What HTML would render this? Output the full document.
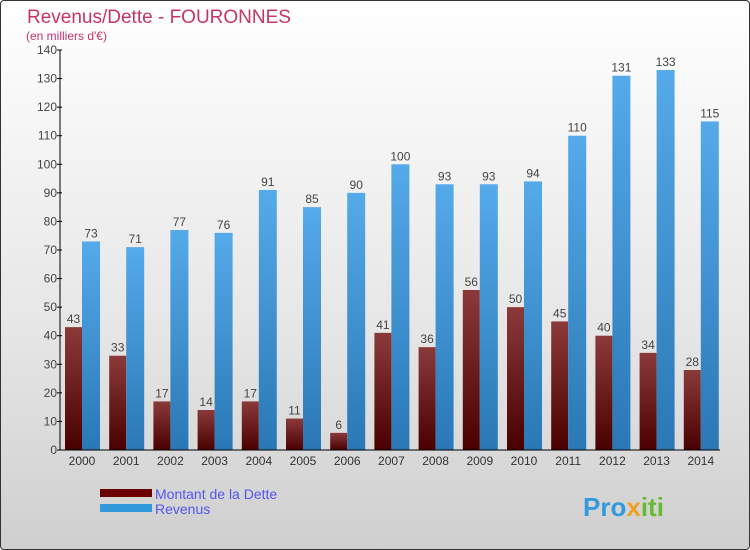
<!DOCTYPE html>
<html><head><meta charset="utf-8"><style>
html,body{margin:0;padding:0}
body{width:750px;height:550px;overflow:hidden;font-family:"Liberation Sans",sans-serif}
#wrap{position:absolute;left:0;top:0;width:748px;height:548px;border:1px solid #333;border-radius:4px;background:linear-gradient(#ffffff,#e6e6e6 60%,#cfcfcf)}
</style></head><body>
<div id="wrap">
<svg id="chart" width="750" height="550" style="position:absolute;left:-1px;top:-1px">
<defs>
<linearGradient id="gD" x1="0" y1="0" x2="0" y2="1"><stop offset="0" stop-color="#8b3a3a"/><stop offset="1" stop-color="#4a0000"/></linearGradient>
<linearGradient id="gR" x1="0" y1="0" x2="0" y2="1"><stop offset="0" stop-color="#55aaea"/><stop offset="1" stop-color="#2a78b5"/></linearGradient>
</defs>
<text x="27" y="23" font-size="19" fill="#c8336a">Revenus/Dette - FOURONNES</text>
<text x="26" y="40" font-size="12" fill="#c8336a">(en milliers d'€)</text>
<g id="bars"></g>
<g id="axes"></g>
<rect x="100" y="489" width="52" height="8" fill="#6b0000"/>
<rect x="100" y="504" width="52" height="8" fill="#3399dd"/>
<text x="155" y="499" font-size="14" fill="#5555ee">Montant de la Dette</text>
<text x="155" y="514" font-size="14" fill="#5555ee">Revenus</text>
<text x="583" y="516" font-size="26" font-weight="bold" fill="#3399dd">Pro<tspan fill="#f0a020">x</tspan><tspan fill="#66bb33">iti</tspan></text>
</svg>
</div>
<script>
const years=["2000","2001","2002","2003","2004","2005","2006","2007","2008","2009","2010","2011","2012","2013","2014"];
const dette=[43,33,17,14,17,11,6,41,36,56,50,45,40,34,28];
const revenus=[73,71,77,76,91,85,90,100,93,93,94,110,131,133,115];
const yTicks=[0,10,20,30,40,50,60,70,80,90,100,110,120,130,140];
const NS="http://www.w3.org/2000/svg";
const y0=450,yTop=50,yMax=140;
function yS(v){return y0-(v/yMax)*(y0-yTop);}
function xC(i){return 82+i*44.2;}
function mk(t,a,p){const e=document.createElementNS(NS,t);for(const k in a)e.setAttribute(k,a[k]);p.appendChild(e);return e;}
const bars=document.getElementById('bars'),axes=document.getElementById('axes');
years.forEach((yr,i)=>{
  const c=xC(i);
  let yd=yS(dette[i]);
  const b1=mk('rect',{x:c-17,y:yd,width:17,height:y0-yd,fill:'url(#gD)'},bars);
  
  
  const t1=mk('text',{x:c-8.5,y:yd-4,'font-size':12,fill:'#444','text-anchor':'middle'},bars);
  t1.textContent=dette[i];
  
  
  let yr2=yS(revenus[i]);
  const b2=mk('rect',{x:c,y:yr2,width:18,height:y0-yr2,fill:'url(#gR)'},bars);
  
  
  const t2=mk('text',{x:c+9,y:yr2-4,'font-size':12,fill:'#444','text-anchor':'middle'},bars);
  t2.textContent=revenus[i];
  
  
  const xl=mk('text',{x:c,y:465,'font-size':12,fill:'#333','text-anchor':'middle'},axes);
  xl.textContent=yr;
  
  
});
yTicks.forEach(v=>{
  const y=yS(v);
  const tk=mk('line',{x1:57,x2:62,y1:y,y2:y,stroke:'#000'},axes);
  
  
  const tl=mk('text',{x:57,y:y+4,'font-size':12,fill:'#444','text-anchor':'end'},axes);
  tl.textContent=v;
  
  
});
const ya=mk('line',{x1:60,x2:60,y1:yTop,y2:y0,stroke:'#000'},axes);


const xa=mk('line',{x1:60,x2:720,y1:y0,y2:y0,stroke:'#000'},axes);


</script>
</body></html>
